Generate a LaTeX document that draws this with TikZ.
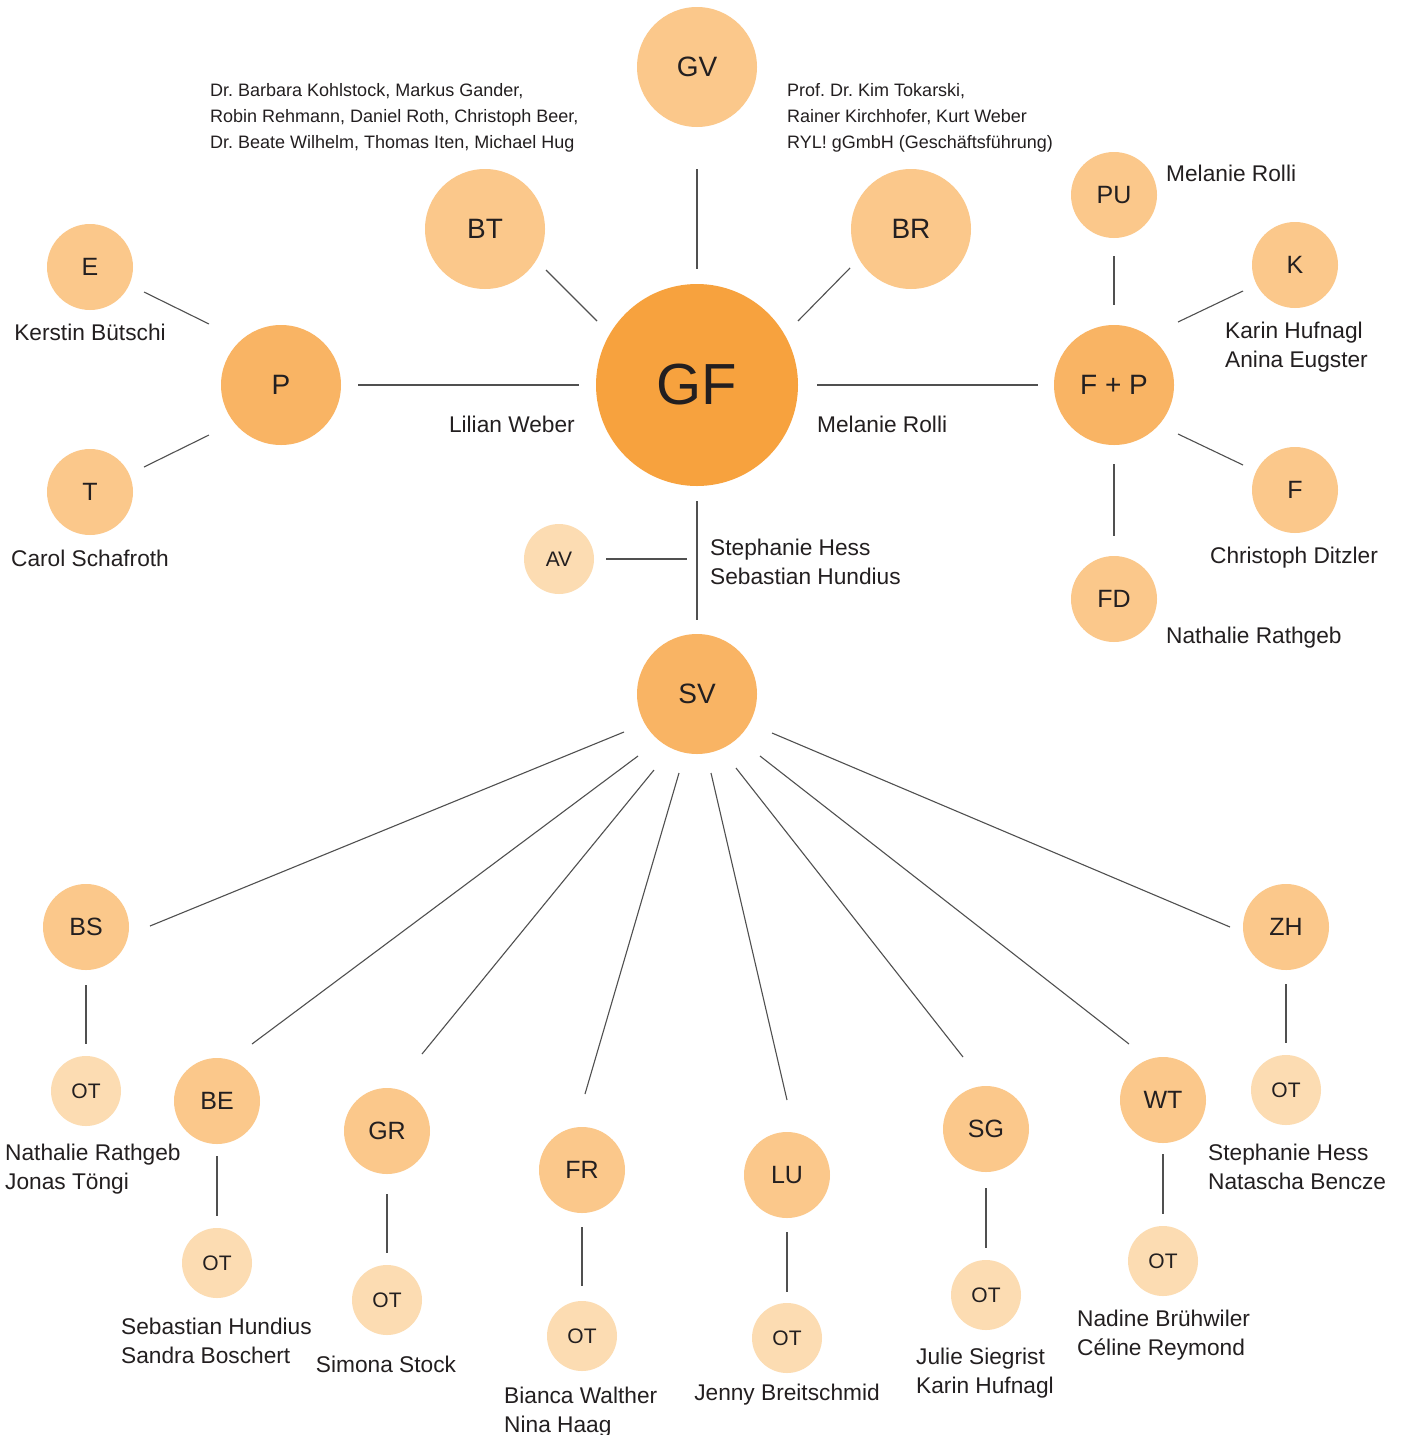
\documentclass[tikz,border=0pt]{standalone}
\usepackage{fontspec}
\setmainfont{Liberation Sans}
\frenchspacing
\definecolor{cGF}{HTML}{F7A23E}
\definecolor{cMid}{HTML}{F9B464}
\definecolor{cLight}{HTML}{FBC88B}
\definecolor{cPale}{HTML}{FCDCB2}
\definecolor{txt}{HTML}{231F20}
\definecolor{lineC}{HTML}{505050}
\begin{document}
\begin{tikzpicture}[x=1pt,y=-1pt,
  circ/.style={circle, inner sep=0pt, text=txt},
  bigc/.style={circ, minimum size=202pt, fill=cGF, font=\fontsize{58}{58}\selectfont},
  midc/.style={circ, minimum size=120pt, fill=cMid, font=\fontsize{28}{28}\selectfont},
  lgtc/.style={circ, minimum size=120pt, fill=cLight, font=\fontsize{28}{28}\selectfont},
  smc/.style={circ, minimum size=86pt, fill=cLight, font=\fontsize{25}{25}\selectfont},
  otc/.style={circ, minimum size=70pt, fill=cPale, font=\fontsize{21}{21}\selectfont},
  lab/.style={inner sep=0pt, text=txt, font=\fontsize{22.7}{29}\selectfont, align=left},
  small/.style={inner sep=0pt, text=txt, font=\fontsize{18}{26}\selectfont, align=left, anchor=north west},
  conn/.style={draw=lineC, line width=1.1pt}
]
\useasboundingbox (0,0) rectangle (1402,1435);
\fill[white] (0,0) rectangle (1402,1435);

% ---- circles
\node[bigc] (GF) at (697,385) {GF};
\node[lgtc] (GV) at (697,67) {GV};
\node[lgtc] (BT) at (485,229) {BT};
\node[lgtc] (BR) at (911,229) {BR};
\node[midc] (P) at (281,385) {P};
\node[midc] (FP) at (1114,385) {F + P};
\node[smc] (E) at (90,267) {E};
\node[smc] (T) at (90,492) {T};
\node[smc] (PU) at (1114,195) {PU};
\node[smc] (K) at (1295,265) {K};
\node[smc] (F) at (1295,490) {F};
\node[smc] (FD) at (1114,599) {FD};
\node[otc] (AV) at (559,559) {AV};
\coordinate (avend) at (687,559);
\node[midc] (SV) at (697,694) {SV};
\node[smc] (BS) at (86,927) {BS};
\node[smc] (ZH) at (1286,927) {ZH};
\node[smc] (BE) at (217,1101) {BE};
\node[smc] (GR) at (387,1131) {GR};
\node[smc] (FR) at (582,1170) {FR};
\node[smc] (LU) at (787,1175) {LU};
\node[smc] (SG) at (986,1129) {SG};
\node[smc] (WT) at (1163,1100) {WT};
\node[otc] (otBS) at (86,1091) {OT};
\node[otc] (otBE) at (217,1263) {OT};
\node[otc] (otGR) at (387,1300) {OT};
\node[otc] (otFR) at (582,1336) {OT};
\node[otc] (otLU) at (787,1338) {OT};
\node[otc] (otSG) at (986,1295) {OT};
\node[otc] (otWT) at (1163,1261) {OT};
\node[otc] (otZH) at (1286,1090) {OT};

% ---- connectors
\draw[conn, shorten <=42pt, shorten >=15pt] (GV) -- (GF);
\draw[conn] ([shift={(61,41)}]BT.center) -- ([shift={(-100,-64)}]GF.center);
\draw[conn] ([shift={(-61,39)}]BR.center) -- ([shift={(101,-64)}]GF.center);
\draw[conn, shorten <=17pt, shorten >=17pt] (P) -- (GF);
\draw[conn, shorten <=19pt, shorten >=16pt] (GF) -- (FP);
\draw[conn, shorten <=15pt, shorten >=14pt] (GF) -- (SV);
\draw[conn, shorten <=12pt] (AV) -- (avend);
\draw[conn] ([shift={(54,25)}]E.center) -- ([shift={(-72,-61)}]P.center);
\draw[conn] ([shift={(54,-25)}]T.center) -- ([shift={(-72,50)}]P.center);
\draw[conn, shorten <=18pt, shorten >=20pt] (PU) -- (FP);
\draw[conn] ([shift={(-52,26)}]K.center) -- ([shift={(64,-63)}]FP.center);
\draw[conn] ([shift={(-52,-25)}]F.center) -- ([shift={(64,49)}]FP.center);
\draw[conn, shorten <=19pt, shorten >=20pt] (FP) -- (FD);

\draw[conn] ([shift={(-73,38)}]SV.center) -- ([shift={(64,-1)}]BS.center);
\draw[conn] ([shift={(-59,62)}]SV.center) -- ([shift={(35,-57)}]BE.center);
\draw[conn] ([shift={(-43,76)}]SV.center) -- ([shift={(35,-77)}]GR.center);
\draw[conn] ([shift={(-18,79)}]SV.center) -- ([shift={(3,-76)}]FR.center);
\draw[conn] ([shift={(14,79)}]SV.center) -- ([shift={(0,-75)}]LU.center);
\draw[conn] ([shift={(39,74)}]SV.center) -- ([shift={(-23,-72)}]SG.center);
\draw[conn] ([shift={(63,62)}]SV.center) -- ([shift={(-34,-56)}]WT.center);
\draw[conn] ([shift={(75,39)}]SV.center) -- ([shift={(-56,0)}]ZH.center);

\draw[conn, shorten <=15pt, shorten >=12pt] (BS) -- (otBS);
\draw[conn, shorten <=12pt, shorten >=12pt] (BE) -- (otBE);
\draw[conn, shorten <=20pt, shorten >=12pt] (GR) -- (otGR);
\draw[conn, shorten <=14pt, shorten >=15pt] (FR) -- (otFR);
\draw[conn, shorten <=14pt, shorten >=11pt] (LU) -- (otLU);
\draw[conn, shorten <=16pt, shorten >=12pt] (SG) -- (otSG);
\draw[conn, shorten <=11pt, shorten >=12pt] (WT) -- (otWT);
\draw[conn, shorten <=14pt, shorten >=12pt] (ZH) -- (otZH);

% ---- labels
\node[small] (btnames) at (210,83) {Dr. Barbara Kohlstock, Markus Gander,\\Robin Rehmann, Daniel Roth, Christoph Beer,\\Dr. Beate Wilhelm, Thomas Iten, Michael Hug};
\node[small] (brnames) at (787,83) {Prof. Dr. Kim Tokarski,\\Rainer Kirchhofer, Kurt Weber\\RYL! gGmbH (Geschäftsführung)};
\node[lab, anchor=base east] (pname) at (575,432) {Lilian Weber};
\node[lab, anchor=base west] (fpname) at (817,432) {Melanie Rolli};
\node[lab, anchor=north west] (svname) at (710,539) {Stephanie Hess\\Sebastian Hundius};
\node[lab, anchor=base] (ename) at (90,340) {Kerstin Bütschi};
\node[lab, anchor=base] (tname) at (90,566) {Carol Schafroth};
\node[lab, anchor=base west] (puname) at (1166,181) {Melanie Rolli};
\node[lab, anchor=north west] (kname) at (1225,322) {Karin Hufnagl\\Anina Eugster};
\node[lab, anchor=base] (fname) at (1294,563) {Christoph Ditzler};
\node[lab, anchor=base west] (fdname) at (1166,643) {Nathalie Rathgeb};
\node[lab, anchor=north west] (bsname) at (5,1144) {Nathalie Rathgeb\\Jonas Töngi};
\node[lab, anchor=north west] (bename) at (121,1318) {Sebastian Hundius\\Sandra Boschert};
\node[lab, anchor=base] (grname) at (386,1372) {Simona Stock};
\node[lab, anchor=north west] (frname) at (504,1387) {Bianca Walther\\Nina Haag};
\node[lab, anchor=base] (luname) at (787,1400) {Jenny Breitschmid};
\node[lab, anchor=north west] (sgname) at (916,1348) {Julie Siegrist\\Karin Hufnagl};
\node[lab, anchor=north west] (wtname) at (1077,1310) {Nadine Brühwiler\\Céline Reymond};
\node[lab, anchor=north west] (zhname) at (1208,1144) {Stephanie Hess\\Natascha Bencze};
\end{tikzpicture}
\end{document}
